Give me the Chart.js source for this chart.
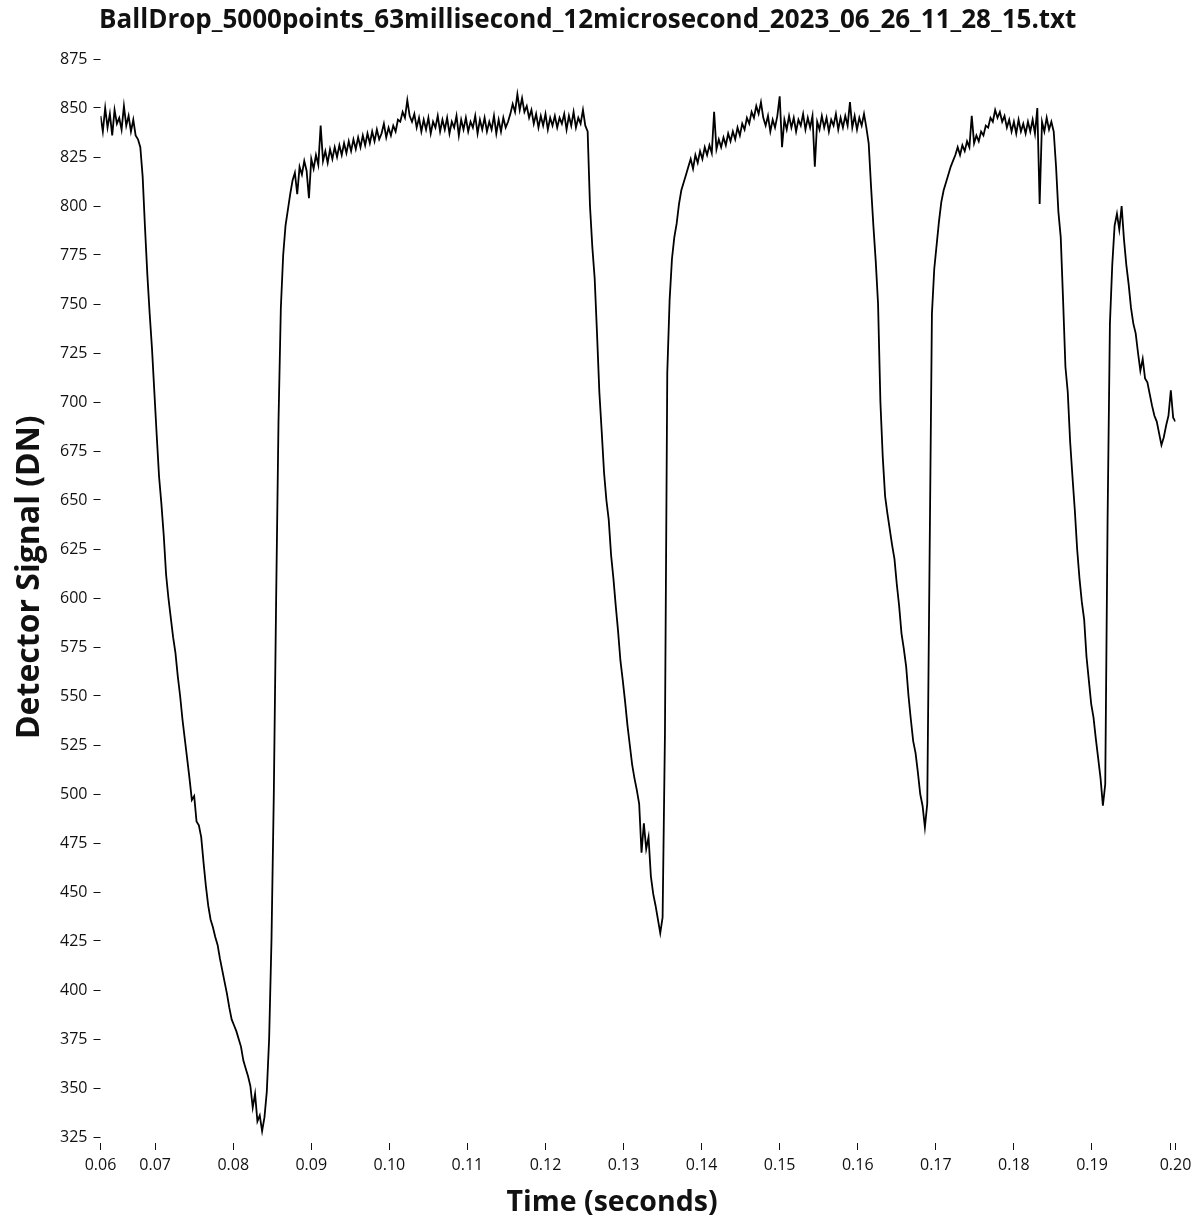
<!DOCTYPE html>
<html>
<head>
<meta charset="utf-8">
<script src="https://cdn.jsdelivr.net/npm/chart.js@4.4.0/dist/chart.umd.min.js"></script>
<style>
  html, body { margin: 0; padding: 0; background: #fff; }
  canvas { display: block; }
</style>
</head>
<body>
<canvas id="dropChart" width="1201" height="1221"></canvas>
<script>
// sample clock: first sample time and spacing (seconds)
const startTime = 0.063;
const sampleStep = 0.0003;

// detector signal (DN), one value per sample
const signalDN = [
  846, 838, 850, 840, 847, 836, 849, 842, 845, 839,
  851, 841, 846, 838, 844, 836, 834, 830, 815, 789,
  765, 745, 727, 705, 683, 662, 648, 632, 612, 600,
  590, 580, 572, 560, 550, 538, 528, 518, 508, 497,
  499, 486, 484, 478, 465, 453, 443, 436, 432, 427,
  423, 416, 410, 404, 398, 391, 385, 382, 379, 375,
  371, 364, 360, 356, 351, 340, 347, 333, 336, 328,
  335, 348, 375, 425, 500, 600, 690, 748, 775, 790,
  798, 806, 813, 817, 806, 820, 816, 823, 818, 804,
  824, 819, 826, 821, 841, 823, 828, 822, 829, 824,
  830, 825, 831, 826, 832, 827, 833, 828, 834, 829,
  835, 830, 836, 831, 837, 832, 838, 833, 839, 834,
  837, 842, 835, 840, 836, 841, 838, 844, 843, 848,
  845, 854, 846, 843, 847, 840, 845, 838, 844, 839,
  845, 837, 843, 840, 846, 838, 844, 839, 845, 837,
  843, 840, 846, 836, 844, 839, 845, 838, 843, 840,
  846, 837, 844, 839, 845, 838, 843, 839, 846, 837,
  844, 838, 845, 840, 843, 847, 852, 848, 857, 849,
  855, 848, 851, 845, 849, 842, 847, 840, 846, 841,
  847, 839, 845, 841, 846, 840, 845, 842, 847, 839,
  846, 841, 848, 840, 845, 842, 849, 841, 838, 800,
  779, 763, 735, 705, 685, 664, 650, 640, 622, 610,
  596, 583, 568, 558, 547, 535, 525, 515, 508, 502,
  495, 470, 485, 472, 478, 458, 449, 443, 436, 429,
  437, 530, 715, 752, 773, 784, 791, 801, 808, 812,
  816, 820, 824, 819, 826, 822, 828, 824, 830, 826,
  831, 827, 848, 829, 834, 830, 835, 831, 837, 833,
  838, 834, 840, 836, 842, 839, 845, 842, 848, 845,
  851, 847, 853, 845, 841, 846, 838, 844, 840, 846,
  856, 830, 844, 839, 846, 840, 845, 838, 844, 841,
  847, 839, 845, 840, 846, 820, 843, 839, 846, 840,
  845, 838, 844, 841, 847, 839, 845, 840, 846, 841,
  853, 840, 846, 839, 845, 841, 847, 840, 832, 810,
  790, 772, 750, 700, 672, 652, 643, 635, 627, 620,
  607, 596, 582, 574, 565, 550, 538, 527, 521, 511,
  500, 494, 483, 495, 620, 745, 768, 780, 792, 802,
  808, 812, 816, 820, 823, 826, 830, 826, 831, 828,
  833, 830, 846, 832, 836, 833, 838, 836, 841, 840,
  845, 843, 849, 845, 848, 843, 846, 840, 844, 838,
  843, 837, 844, 838, 842, 837, 843, 838, 844, 837,
  850, 801, 843, 838, 845, 839, 843, 838, 820, 797,
  784, 752, 718, 705, 680, 662, 645, 625, 610, 598,
  589, 570, 558, 546, 539, 528, 518, 508, 494, 505,
  640, 740, 770, 790, 796, 788, 800, 783, 770, 760,
  748, 740, 735, 725, 716, 722, 712, 710, 704, 698,
  693, 690, 684, 678, 682, 688, 693, 706, 692, 690
];

// x axis ticks (first and last sit on the axis ends)
const xTickValues = [0.063, 0.07, 0.08, 0.09, 0.10, 0.11, 0.12, 0.13, 0.14, 0.15, 0.16, 0.17, 0.18, 0.19, 0.20, 0.2007];
const xTickLabels = ['0.06', '0.07', '0.08', '0.09', '0.10', '0.11', '0.12', '0.13', '0.14', '0.15', '0.16', '0.17', '0.18', '0.19', '', '0.20'];

const yMin = 325;
const yMax = 875;
const yStep = 25;

const chartTitle = 'BallDrop_5000points_63millisecond_12microsecond_2023_06_26_11_28_15.txt';
// padded with spaces so the axis titles sit where they do in the original
const xTitle = 'Time (seconds)       ';
const yTitle = '     Detector Signal (DN)';

const points = signalDN.map((v, i) => ({ x: startTime + i * sampleStep, y: v }));

const fontFamily = '"Open Sans", "Noto Sans", sans-serif';
const ink = '#111';

const ctx = document.getElementById('dropChart').getContext('2d');
new Chart(ctx, {
  type: 'line',
  data: {
    datasets: [{
      label: 'Detector Signal',
      data: points,
      borderColor: '#000',
      borderWidth: 1.8,
      pointRadius: 0,
      tension: 0,
      fill: false
    }]
  },
  options: {
    responsive: false,
    animation: false,
    layout: { padding: { top: 0, left: 0, right: 25.5, bottom: 0 } },
    plugins: {
      legend: { display: false },
      tooltip: { enabled: false },
      title: {
        display: true,
        text: chartTitle,
        color: ink,
        font: { family: fontFamily, size: 26, weight: 'bold', lineHeight: 1.2 },
        padding: { top: 4.5, bottom: 23.3 }
      }
    },
    scales: {
      x: {
        type: 'linear',
        min: xTickValues[0],
        max: xTickValues[xTickValues.length - 1],
        border: { display: false },
        grid: {
          drawOnChartArea: false,
          drawTicks: true,
          tickLength: 13,
          tickColor: ink,
          tickWidth: 1,
          tickBorderDash: [0, 6, 7, 0]
        },
        ticks: {
          autoSkip: false,
          maxRotation: 0,
          color: ink,
          padding: 6,
          font: { family: fontFamily, size: 16 },
          callback: (v, i) => xTickLabels[i]
        },
        afterBuildTicks: (scale) => {
          scale.ticks = xTickValues.map(v => ({ value: v }));
        },
        afterFit: (scale) => { scale.height = 84; },
        title: {
          display: true,
          text: xTitle,
          color: ink,
          font: { family: fontFamily, size: 28.5, weight: 'bold', lineHeight: 1.2 },
          padding: { top: 0, bottom: 1 }
        }
      },
      y: {
        min: yMin,
        max: yMax,
        border: { display: false },
        grid: {
          drawOnChartArea: false,
          drawTicks: true,
          tickLength: 10,
          tickColor: ink,
          tickWidth: 1,
          tickBorderDash: [0, 3, 7, 0]
        },
        ticks: {
          stepSize: yStep,
          color: ink,
          padding: 3,
          font: { family: fontFamily, size: 16 }
        },
        afterFit: (scale) => { scale.width = 100.5; },
        title: {
          display: true,
          text: yTitle,
          color: ink,
          font: { family: fontFamily, size: 32, weight: 'bold', lineHeight: 1.2 },
          padding: { top: 11, bottom: 0 }
        }
      }
    }
  }
});
</script>
</body>
</html>
